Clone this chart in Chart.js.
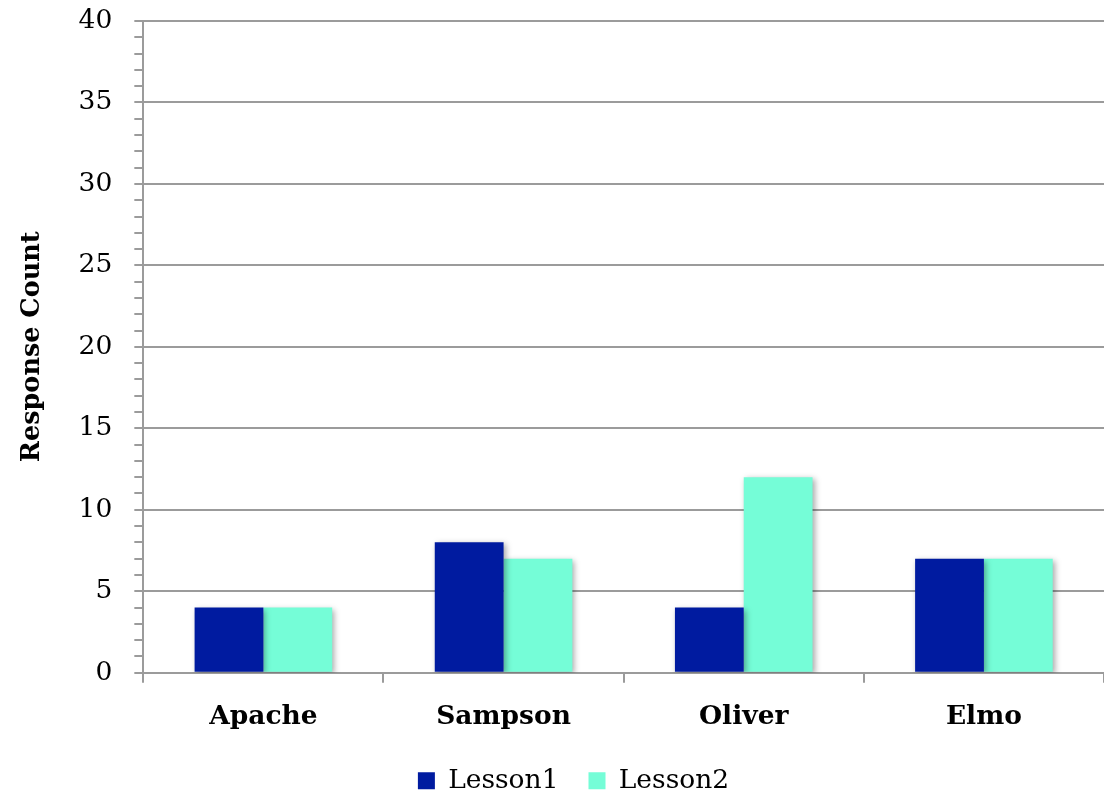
<!DOCTYPE html>
<html>
<head>
<meta charset="utf-8">
<script src="https://cdn.jsdelivr.net/npm/chart.js@4/dist/chart.umd.min.js"></script>
<style>
  html, body { margin: 0; padding: 0; background: #fff; }
  #wrap { width: 1104px; height: 798px; }
</style>
</head>
<body>
<div id="wrap"><canvas id="myChart" width="1104" height="798"></canvas></div>
<script>
// categorias e valores
var students = ['Apache', 'Sampson', 'Oliver', 'Elmo'];
var lesson1 = [4, 8, 4, 7];
var lesson2 = [4, 7, 12, 7];
var yMax = 40;
var yMajorStep = 5;

var gridGray = '#9b9b9b';
var serif = 'DejaVu Serif';

// sombra leve nas barras
var barShadow = {
  id: 'barShadow',
  beforeDatasetsDraw: function(chart) {
    var c = chart.ctx;
    c.save();
    c.shadowColor = 'rgba(0,0,0,0.35)';
    c.shadowBlur = 6;
    c.shadowOffsetX = 2;
    c.shadowOffsetY = 2;
  },
  afterDatasetsDraw: function(chart) {
    chart.ctx.restore();
  }
};

// empurra a legenda um pouco para a direita
var legendShift = {
  id: 'legendShift',
  afterLayout: function(chart) {
    if (chart.legend) {
      chart.legend.left += 13;
      chart.legend.right += 13;
    }
  }
};

var ctx = document.getElementById('myChart').getContext('2d');

new Chart(ctx, {
  type: 'bar',
  data: {
    labels: students,
    datasets: [
      { label: 'Lesson1', data: lesson1, backgroundColor: '#001ba0' },
      { label: 'Lesson2', data: lesson2, backgroundColor: '#75fdd7' }
    ]
  },
  options: {
    responsive: false,
    animation: false,
    datasets: {
      bar: { categoryPercentage: 0.573, barPercentage: 1.0 }
    },
    layout: { padding: { left: 17, right: 0, top: 21, bottom: -6 } },
    plugins: {
      tooltip: { enabled: false },
      legend: {
        position: 'bottom',
        labels: {
          boxWidth: 17,
          boxHeight: 17,
          padding: 30,
          color: '#000',
          font: { family: serif, size: 26.5 }
        }
      }
    },
    scales: {
      x: {
        // aproxima o eixo da legenda
        afterFit: function(s) { s.height -= 15; },
        grid: {
          drawOnChartArea: false,
          color: gridGray,
          lineWidth: 2,
          tickLength: 10
        },
        border: { color: gridGray, width: 2 },
        ticks: {
          color: '#000',
          padding: 19,
          font: { family: serif, size: 26.5, weight: 'bold' }
        }
      },
      y: {
        min: 0,
        max: yMax,
        afterFit: function(s) { s.paddingTop = 0; },
        grid: {
          color: function(c) {
            return c.tick && c.tick.value % yMajorStep === 0 ? gridGray : 'rgba(0,0,0,0)';
          },
          tickColor: gridGray,
          lineWidth: 2,
          tickLength: 9
        },
        border: { color: gridGray, width: 2 },
        ticks: {
          stepSize: 1,
          autoSkip: false,
          color: '#000',
          padding: 22,
          font: { family: serif, size: 26.5 },
          callback: function(v) {
            return v % yMajorStep === 0 ? v : '';
          }
        },
        title: {
          display: true,
          text: 'Response Count',
          color: '#000',
          padding: { top: 0, bottom: 9 },
          font: { family: serif, size: 25.5, weight: 'bold' }
        }
      }
    }
  },
  plugins: [barShadow, legendShift]
});
</script>
</body>
</html>
